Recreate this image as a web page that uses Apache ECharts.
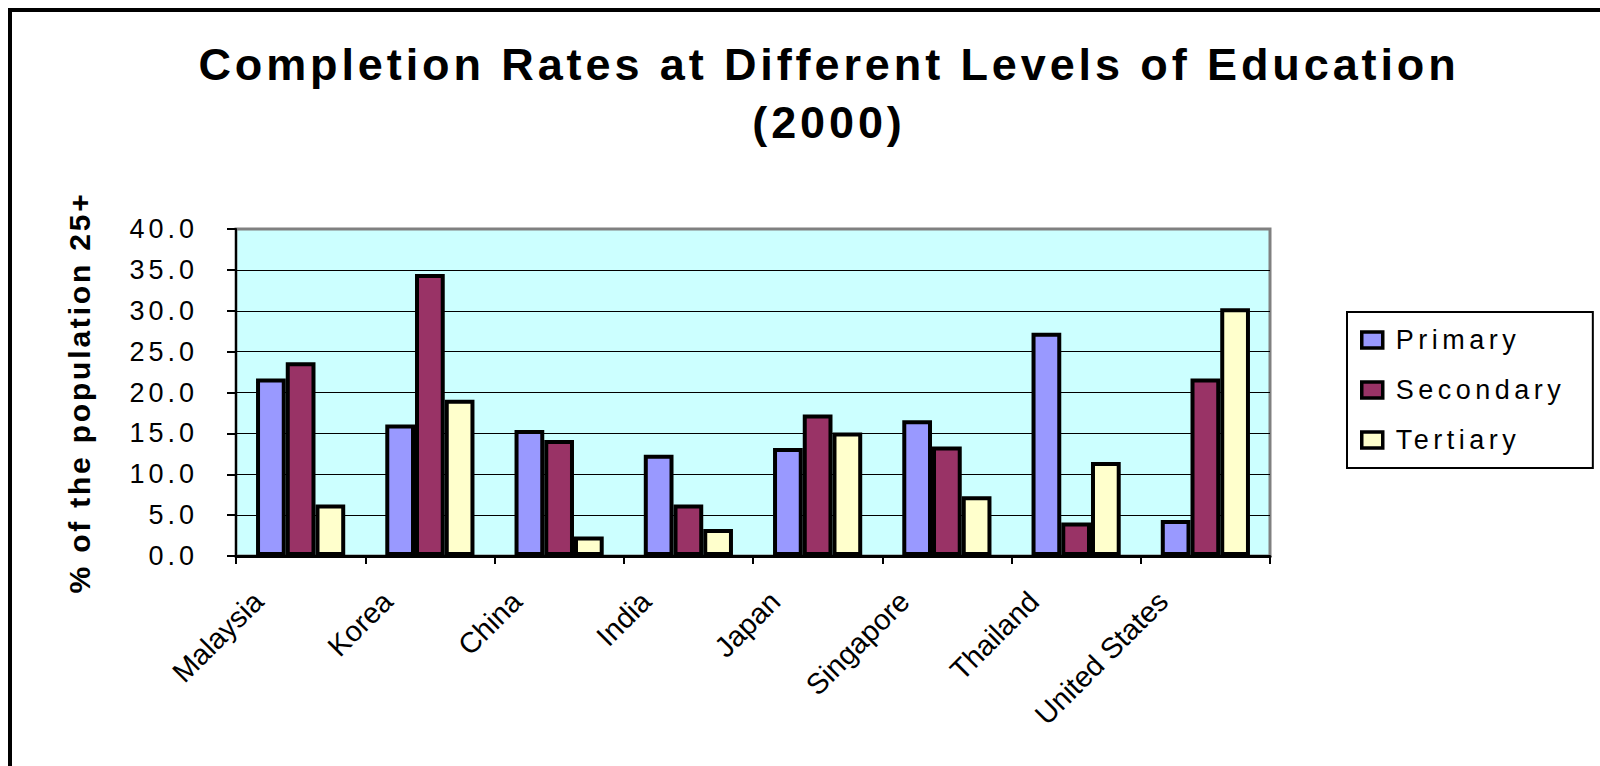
<!DOCTYPE html>
<html>
<head>
<meta charset="utf-8">
<script src="https://cdn.jsdelivr.net/npm/echarts@6/dist/echarts.min.js"></script>
<style>
html,body{margin:0;padding:0;background:#fff;}
#chart{width:1600px;height:766px;}
</style>
</head>
<body>
<div id="chart"></div>
<script>
// ---- data ----
const titleLines = ['Completion Rates at Different Levels of Education', '(2000)'];
const yAxisName = '% of the population 25+';
const categories = ['Malaysia', 'Korea', 'China', 'India', 'Japan', 'Singapore', 'Thailand', 'United States'];
const seriesNames = ['Primary', 'Secondary', 'Tertiary'];
const primary   = [21.7, 16.1, 15.4, 12.4, 13.2, 16.6, 27.3, 4.4];
const secondary = [23.7, 34.5, 14.2, 6.3, 17.3, 13.4, 4.1, 21.7];
const tertiary  = [6.3, 19.1, 2.4, 3.3, 15.1, 7.3, 11.5, 30.3];
const yMin = 0, yMax = 40, yStep = 5;
const yTickLabels = ['0.0', '5.0', '10.0', '15.0', '20.0', '25.0', '30.0', '35.0', '40.0'];
const colors = ['#9999FF', '#993366', '#FFFFCC'];

const FONT = '"Liberation Sans", Arial, sans-serif';
const chart = echarts.init(document.getElementById('chart'), null, {renderer: 'svg'});

const values = [primary, secondary, tertiary];
const option = {
  animation: false,
  backgroundColor: '#ffffff',
  textStyle: {fontFamily: FONT, color: '#000'},
  title: {
    text: titleLines.join('\n'),
    left: 829,
    textAlign: 'center',
    top: 36,
    padding: 0,
    textStyle: {fontFamily: FONT, fontWeight: 'bold', fontSize: 45, lineHeight: 57.5, color: '#000'}
  },
  graphic: [{
    type: 'rect',
    shape: {x: 10, y: 10, width: 1620, height: 800},
    style: {fill: 'none', stroke: '#000', lineWidth: 4},
    silent: true
  }],
  legend: {
    data: seriesNames,
    orient: 'vertical',
    left: 1347,
    top: 312,
    padding: [13, 68, 13, 13],
    itemGap: 20,
    itemWidth: 21,
    itemHeight: 16,
    icon: 'rect',
    borderColor: '#000',
    borderWidth: 2,
    backgroundColor: '#fff',
    itemStyle: {borderColor: '#000', borderWidth: 3.5},
    textStyle: {fontFamily: FONT, fontSize: 27, lineHeight: 30, color: '#000', padding: [0, 0, 0, 8]}
  },
  grid: {
    left: 236, right: 330, top: 229, bottom: 210,
    show: true, backgroundColor: '#CCFFFF', borderColor: '#808080', borderWidth: 3,
    containLabel: false, outerBoundsMode: 'none'
  },
  xAxis: {
    type: 'category',
    data: categories,
    boundaryGap: true,
    axisLine: {lineStyle: {color: '#000', width: 3}},
    axisTick: {show: true, length: 8, interval: 0, lineStyle: {color: '#000', width: 2}},
    axisLabel: {interval: 0, rotate: 45, margin: -2, padding: [0, 60, 0, 0],
      fontFamily: FONT, fontSize: 29, color: '#000'},
    splitLine: {show: false}
  },
  yAxis: {
    type: 'value',
    min: yMin, max: yMax, interval: yStep,
    name: yAxisName,
    nameLocation: 'middle',
    nameGap: 141,
    nameRotate: 90,
    nameMoveOverlap: false,
    nameTextStyle: {fontFamily: FONT, fontWeight: 'bold', fontSize: 30, lineHeight: 32, color: '#000'},
    axisLine: {show: true, lineStyle: {color: '#000', width: 2}},
    axisTick: {show: true, length: 9, lineStyle: {color: '#000', width: 2}},
    axisLabel: {margin: 38, fontFamily: FONT, fontSize: 27, color: '#000',
      formatter: v => yTickLabels[Math.round((v - yMin) / yStep)]},
    splitLine: {show: true, showMinLine: false, showMaxLine: false, lineStyle: {color: '#000', width: 1}}
  },
  series: seriesNames.map((name, i) => ({
    name: name,
    type: 'bar',
    data: values[i],
    barGap: '0%',
    barCategoryGap: '31%',
    itemStyle: {color: colors[i], borderColor: '#000', borderWidth: 4}
  }))
};
chart.setOption(option);

function applySpacing() {
  document.querySelectorAll('#chart svg text').forEach(t => {
    const s = (t.textContent || '').trim();
    let ls = null;
    if (titleLines.includes(s)) ls = 3.9;
    else if (seriesNames.includes(s)) ls = 4.5;
    else if (s === yAxisName) ls = 2.8;
    else if (yTickLabels.includes(s)) ls = 4;
    if (ls !== null) t.style.letterSpacing = ls + 'px';
  });
}
chart.on('finished', applySpacing);
applySpacing();
setTimeout(applySpacing, 50);
</script>
</body>
</html>
